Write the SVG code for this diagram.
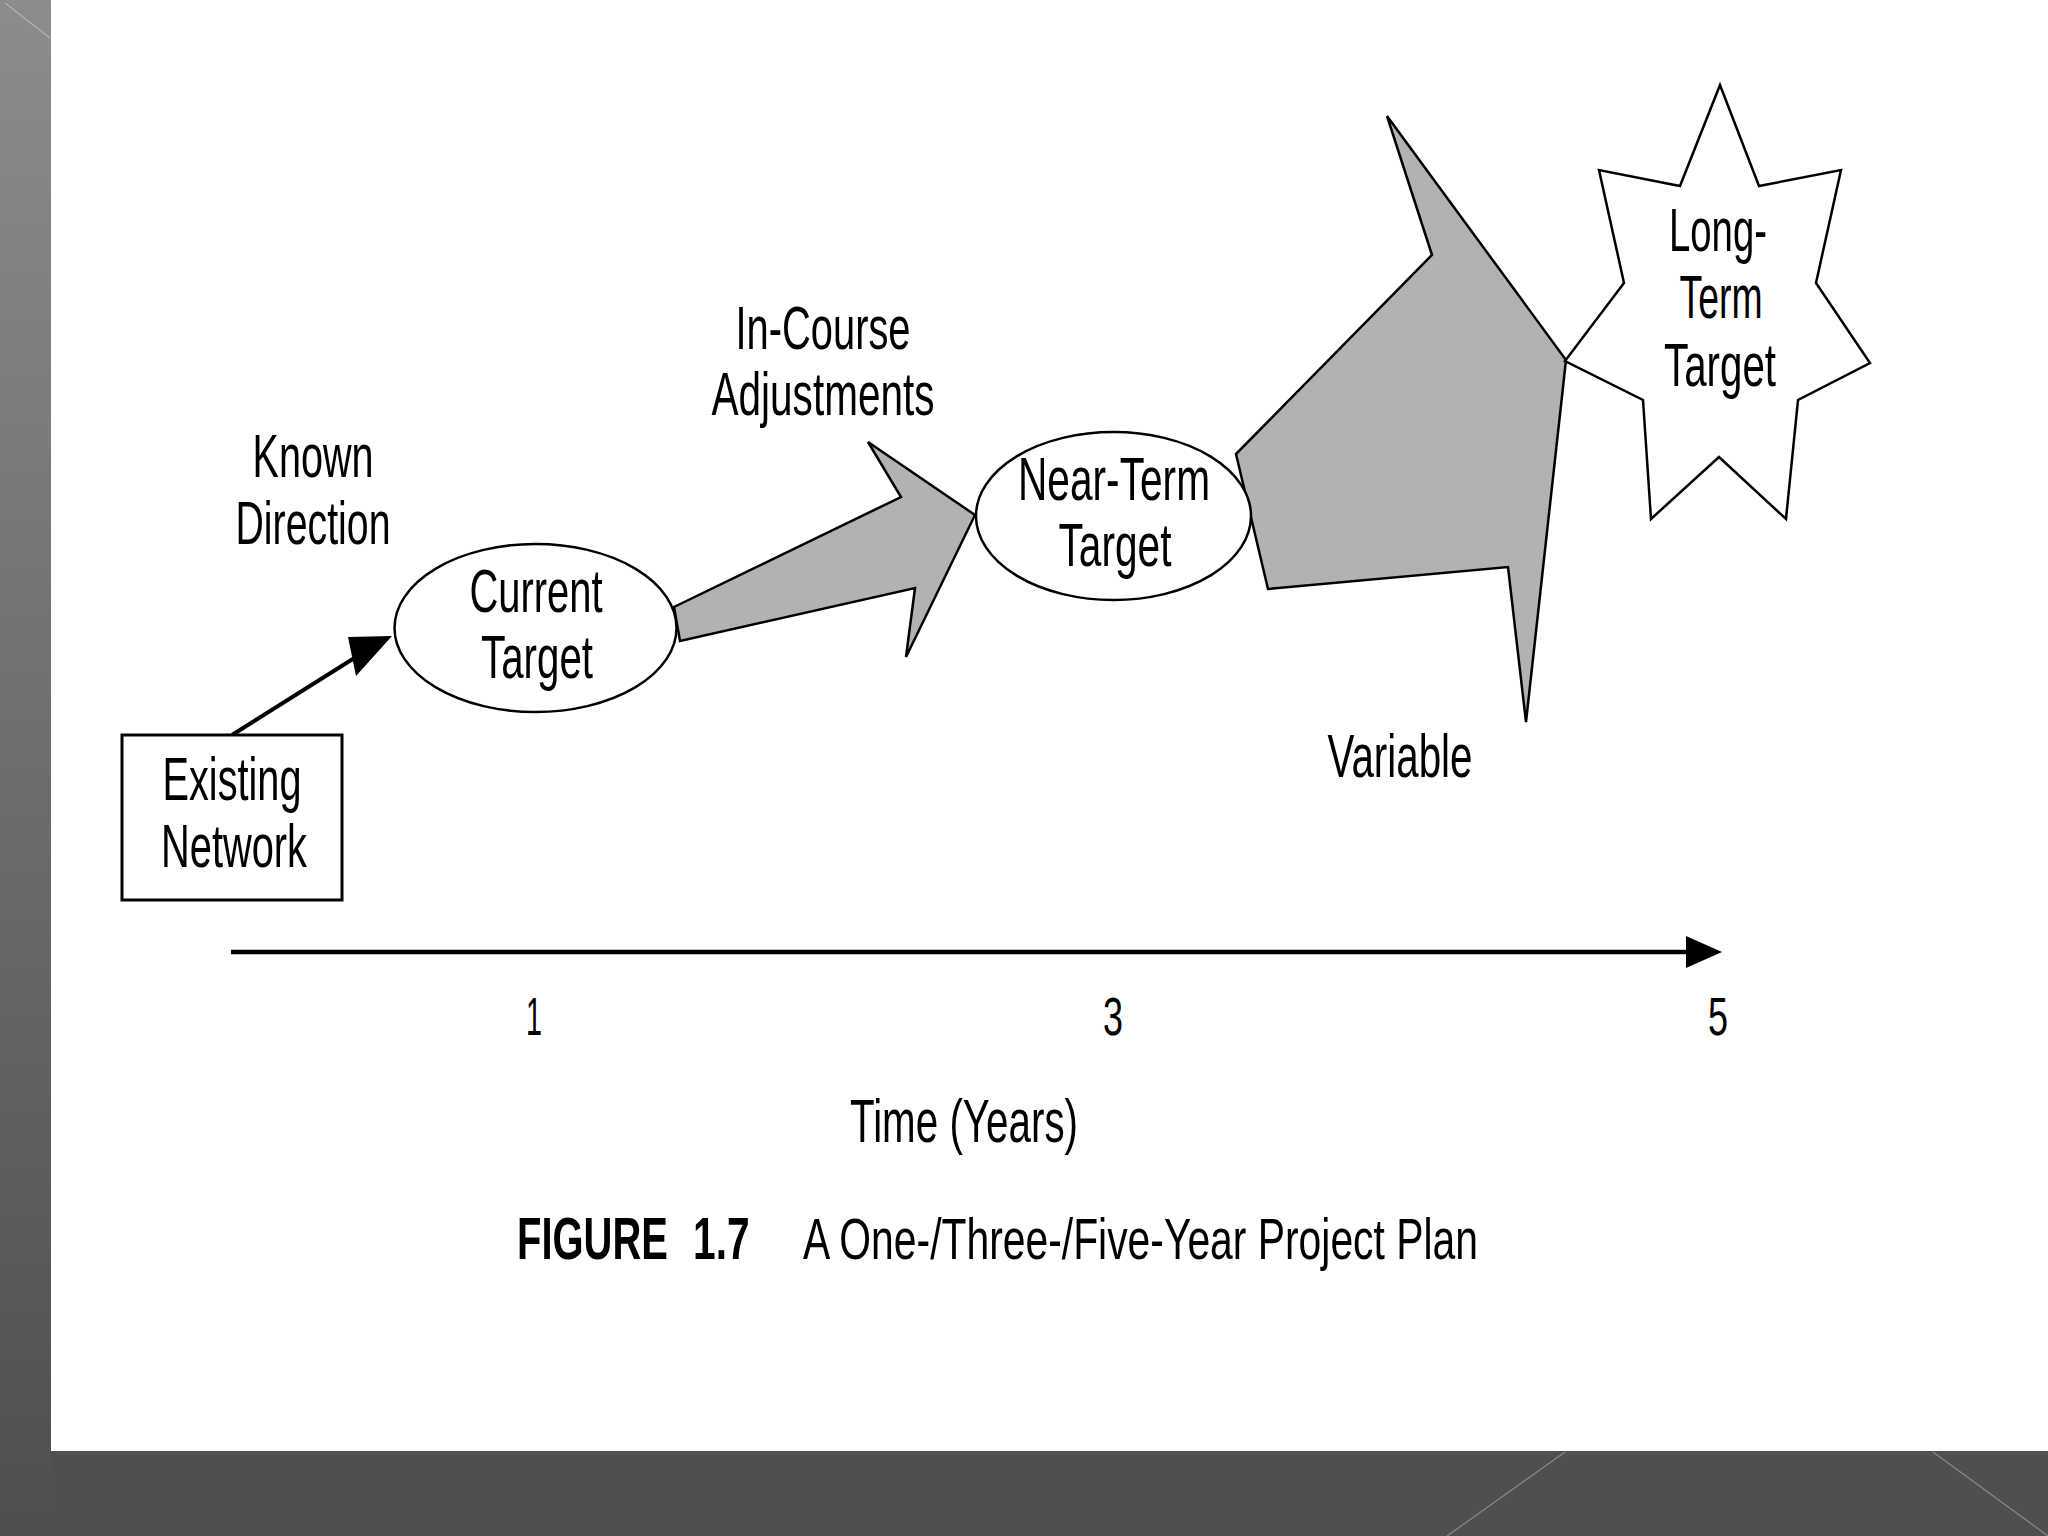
<svg xmlns="http://www.w3.org/2000/svg" width="2048" height="1536" viewBox="0 0 2048 1536">
  <defs>
    <linearGradient id="sideGrad" x1="0" y1="0" x2="0" y2="1">
      <stop offset="0" stop-color="#8c8c8c"/>
      <stop offset="1" stop-color="#4e4e4e"/>
    </linearGradient>
    <style>
      .lbl { font-family: "Liberation Sans", Arial, Helvetica, sans-serif; font-size: 61px; fill: #000; text-anchor: middle; }
      .num { font-family: "Liberation Sans", Arial, Helvetica, sans-serif; font-size: 54px; fill: #000; text-anchor: middle; }
      .cap { font-family: "Liberation Sans", Arial, Helvetica, sans-serif; font-size: 58px; fill: #000; }
      .capb { font-family: "Liberation Sans", Arial, Helvetica, sans-serif; font-size: 59px; font-weight: bold; fill: #000; }
      .outline { fill: #fff; stroke: #000; stroke-width: 2.5; }
      .block { fill: #b2b2b2; stroke: #000; stroke-width: 2.5; stroke-linejoin: miter; }
    </style>
  </defs>

  <!-- slide background -->
  <rect x="0" y="0" width="2048" height="1536" fill="#4f4f4f"/>
  <rect x="0" y="0" width="51" height="1536" fill="url(#sideGrad)"/>
  <rect x="51" y="0" width="1997" height="1451" fill="#ffffff"/>
  <line x1="5" y1="3" x2="50" y2="38" stroke="#b0b0b0" stroke-width="1.5"/>
  <line x1="1565" y1="1452" x2="1447" y2="1536" stroke="#8a8a8a" stroke-width="1.2"/>
  <line x1="1933" y1="1452" x2="2048" y2="1536" stroke="#8a8a8a" stroke-width="1.2"/>

  <!-- connectors -->
  <g id="connectors">
    <g id="known-direction-arrow">
      <line x1="232" y1="735" x2="356" y2="657" stroke="#000" stroke-width="4"/>
      <polygon points="392,636 348,637 356,676" fill="#000"/>
    </g>
    <polygon id="in-course-arrow" class="block" points="674,607 901,497 868,442 975,515 906,657 915,588 680,641"/>
    <polygon id="variable-arrow" class="block" points="1387,116 1432,255 1236,454 1268,589 1508,567 1526,722 1566,360"/>
  </g>

  <!-- nodes -->
  <g id="existing-network">
    <rect x="122" y="735" width="220" height="165" fill="#fff" stroke="#000" stroke-width="3"/>
    <text class="lbl" x="232" y="800" textLength="139" lengthAdjust="spacingAndGlyphs">Existing</text>
    <text class="lbl" x="234" y="867" textLength="146" lengthAdjust="spacingAndGlyphs">Network</text>
  </g>

  <g id="known-direction-label">
    <text class="lbl" x="313" y="477" textLength="121" lengthAdjust="spacingAndGlyphs">Known</text>
    <text class="lbl" x="313" y="544" textLength="155" lengthAdjust="spacingAndGlyphs">Direction</text>
  </g>

  <g id="current-target">
    <ellipse class="outline" cx="535.5" cy="628" rx="141" ry="84"/>
    <text class="lbl" x="536" y="612" textLength="133" lengthAdjust="spacingAndGlyphs">Current</text>
    <text class="lbl" x="537" y="678" textLength="112" lengthAdjust="spacingAndGlyphs">Target</text>
  </g>

  <g id="in-course-label">
    <text class="lbl" x="823" y="349" textLength="175" lengthAdjust="spacingAndGlyphs">In-Course</text>
    <text class="lbl" x="823" y="415" textLength="223" lengthAdjust="spacingAndGlyphs">Adjustments</text>
  </g>

  <g id="near-term-target">
    <ellipse class="outline" cx="1113.5" cy="516" rx="137.5" ry="84"/>
    <text class="lbl" x="1114" y="500" textLength="192" lengthAdjust="spacingAndGlyphs">Near-Term</text>
    <text class="lbl" x="1115" y="566" textLength="113" lengthAdjust="spacingAndGlyphs">Target</text>
  </g>

  <g id="variable-label">
    <text class="lbl" x="1400" y="777" textLength="145" lengthAdjust="spacingAndGlyphs">Variable</text>
  </g>

  <g id="long-term-target">
    <polygon class="outline" points="1720,85 1759,186 1841,170 1816,283 1870,363 1798,400 1786,519 1719,457 1651,519 1643,400 1565,361 1624,283 1599,170 1680,186"/>
    <text class="lbl" x="1718" y="251" textLength="98" lengthAdjust="spacingAndGlyphs">Long-</text>
    <text class="lbl" x="1721" y="318" textLength="83" lengthAdjust="spacingAndGlyphs">Term</text>
    <text class="lbl" x="1720" y="386" textLength="112" lengthAdjust="spacingAndGlyphs">Target</text>
  </g>

  <!-- time axis -->
  <g id="time-axis">
    <line x1="231" y1="952" x2="1692" y2="952" stroke="#000" stroke-width="4.5"/>
    <polygon points="1686,936 1722,952 1686,968" fill="#000"/>
    <text class="num" x="534" y="1035" textLength="16" lengthAdjust="spacingAndGlyphs">1</text>
    <text class="num" x="1113" y="1035" textLength="20" lengthAdjust="spacingAndGlyphs">3</text>
    <text class="num" x="1718" y="1035" textLength="20" lengthAdjust="spacingAndGlyphs">5</text>
    <text class="lbl" x="964" y="1142" textLength="228" lengthAdjust="spacingAndGlyphs">Time (Years)</text>
  </g>

  <!-- caption -->
  <g id="caption">
    <text class="capb" transform="translate(517,1259) scale(0.677,1)">FIGURE</text>
    <text class="capb" transform="translate(693,1259) scale(0.69,1)">1.7</text>
    <text class="cap" x="803" y="1259" textLength="675" lengthAdjust="spacingAndGlyphs">A One-/Three-/Five-Year Project Plan</text>
  </g>
</svg>
